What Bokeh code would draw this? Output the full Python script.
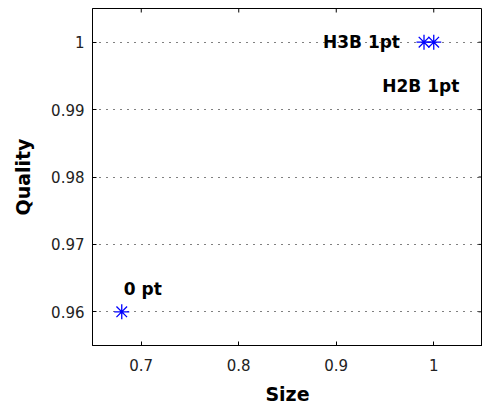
import math
from bokeh.plotting import figure
from bokeh.models import FixedTicker, ColumnDataSource
from bokeh.core.properties import value
from bokeh.embed import file_html
from bokeh.resources import INLINE

# ---- data ----
labels = ["0 pt", "H3B 1pt", "H2B 1pt"]
sizes = [0.68, 0.99, 1.0]
qualities = [0.96, 1.0, 1.0]

x_ticks = [0.7, 0.8, 0.9, 1.0]
x_tick_labels = ["0.7", "0.8", "0.9", "1"]
y_ticks = [0.96, 0.97, 0.98, 0.99, 1.0]
y_tick_labels = ["0.96", "0.97", "0.98", "0.99", "1"]

FONT = "DejaVu Sans"

p = figure(width=482, height=407, x_range=(0.65, 1.05), y_range=(0.955, 1.005),
           output_backend="svg", toolbar_location=None,
           min_border_left=92, min_border_right=0, min_border_top=8, min_border_bottom=60,
           background_fill_color="white", border_fill_color="white")

p.outline_line_color = "black"
p.outline_line_width = 1
p.xgrid.grid_line_color = None
p.ygrid.grid_line_color = "black"
p.ygrid.grid_line_dash = "1 6"
p.ygrid.grid_line_width = 1

for ax, ticks, tlabels in ((p.xaxis[0], x_ticks, x_tick_labels), (p.yaxis[0], y_ticks, y_tick_labels)):
    ax.ticker = FixedTicker(ticks=ticks)
    ax.major_label_overrides = {t: l for t, l in zip(ticks, tlabels)}
    ax.major_tick_in = 4
    ax.major_tick_out = 0
    ax.minor_tick_line_color = None
    ax.axis_line_color = "black"
    ax.major_tick_line_color = "black"
    ax.major_label_text_font = FONT
    ax.major_label_text_font_size = "15px"
    ax.major_label_text_color = "#222222"
    ax.axis_label_text_font = FONT
    ax.axis_label_text_font_size = "19px"
    ax.axis_label_text_font_style = "bold"
    ax.axis_label_text_color = "black"

p.xaxis.axis_label = "Size"
p.yaxis.axis_label = "Quality"
p.xaxis.major_label_standoff = 13
p.yaxis.major_label_standoff = 8
p.xaxis.axis_label_standoff = 9
p.yaxis.axis_label_standoff = 14

# box ticks on the top and right edges (half of each dash is clipped by the frame)
p.scatter(x=x_ticks, y=[p.y_range.end] * len(x_ticks), marker="dash", angle=math.pi / 2,
          size=8, line_color="black", line_width=1)
p.scatter(x=[p.x_range.end] * len(y_ticks), y=y_ticks, marker="dash",
          size=8, line_color="black", line_width=1)

src = ColumnDataSource(dict(x=sizes, y=qualities))
p.scatter("x", "y", source=src, marker="asterisk", size=15, line_color="blue", line_width=1.3)

# label placement styles (screen offsets)
label_styles = [
    dict(align="left", dx=2, dy=-23),
    dict(align="right", dx=-24, dy=0),
    dict(align="center", dx=-13, dy=44),
]
for i, st in enumerate(label_styles):
    p.text(x=[sizes[i]], y=[qualities[i]], text=[labels[i]],
           text_font=value(FONT), text_font_style="bold", text_font_size="17px",
           text_align=st["align"], text_baseline="middle",
           x_offset=st["dx"], y_offset=st["dy"], text_color="black")

open("out.html", "w").write(file_html(p, INLINE))
